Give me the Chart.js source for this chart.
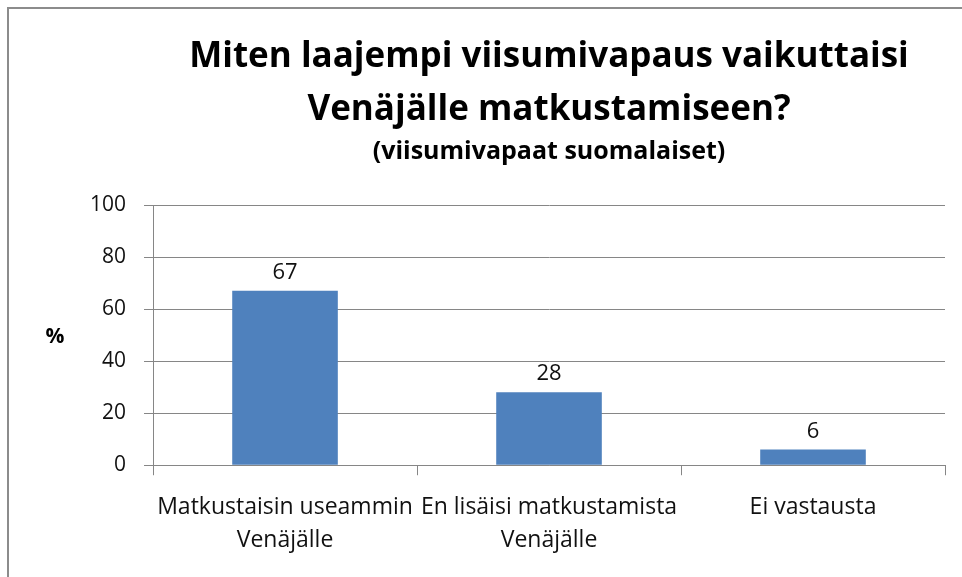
<!DOCTYPE html>
<html>
<head>
<meta charset="utf-8">
<script src="https://cdn.jsdelivr.net/npm/chart.js@4"></script>
<style>
    body { margin: 0; background: #fff; }
    #wrap { position: relative; width: 962px; height: 577px; }
    #frame {
        position: absolute; left: 7px; top: 7px; right: 0; bottom: 0;
        border-top: 2px solid #8c8c8c; border-left: 2px solid #8c8c8c;
        pointer-events: none;
    }
</style>
</head>
<body>
<div id="wrap">
    <canvas id="chart"></canvas>
    <div id="frame"></div>
</div>
<script>
// Chart data
const categories = [
    ['Matkustaisin useammin', 'Venäjälle'],
    ['En lisäisi matkustamista', 'Venäjälle'],
    'Ei vastausta'
];
const values = [67, 28, 6];
const titleLines = ['Miten laajempi viisumivapaus vaikuttaisi', 'Venäjälle matkustamiseen?'];
const subtitleText = '(viisumivapaat suomalaiset)';
const yAxisLabel = '%';

const fontFamily = '"Open Sans", Lato, sans-serif';
const gridColor = '#868686';

// Draws the value above each bar
const valueLabels = {
    id: 'valueLabels',
    afterDatasetsDraw(chart) {
        const ctx = chart.ctx;
        ctx.save();
        ctx.font = '22px ' + fontFamily;
        ctx.fillStyle = '#111';
        ctx.textAlign = 'center';
        ctx.textBaseline = 'alphabetic';
        chart.getDatasetMeta(0).data.forEach((bar, i) => {
            ctx.fillText(values[i], bar.x, bar.y - 12);
        });
        ctx.restore();
    }
};

// Horizontal "%" label left of the y axis
const yLabel = {
    id: 'yLabel',
    afterDraw(chart) {
        const ctx = chart.ctx;
        const area = chart.chartArea;
        ctx.save();
        ctx.font = 'bold 21px ' + fontFamily;
        ctx.fillStyle = '#000';
        ctx.textAlign = 'center';
        ctx.textBaseline = 'middle';
        ctx.fillText(yAxisLabel, 55, (area.top + area.bottom) / 2 + 2);
        ctx.restore();
    }
};

new Chart(document.getElementById('chart'), {
    type: 'bar',
    data: {
        labels: categories,
        datasets: [{
            data: values,
            backgroundColor: '#4f81bd',
            barPercentage: 0.4,
            categoryPercentage: 1
        }]
    },
    options: {
        responsive: true,
        maintainAspectRatio: false,
        animation: false,
        layout: { padding: { left: 72, right: 17, top: 31, bottom: 4 } },
        plugins: {
            legend: { display: false },
            tooltip: { enabled: false },
            title: {
                display: true,
                text: titleLines,
                fullSize: false,
                color: '#000',
                font: { family: fontFamily, size: 35, weight: 'bold', lineHeight: 1.5 },
                padding: { top: 0, bottom: 0 }
            },
            subtitle: {
                display: true,
                text: subtitleText,
                fullSize: false,
                color: '#000',
                font: { family: fontFamily, size: 25, weight: 'bold', lineHeight: 1.2 },
                padding: { top: 1, bottom: 38 }
            }
        },
        scales: {
            x: {
                grid: {
                    offset: true,
                    drawOnChartArea: false,
                    color: gridColor,
                    tickLength: 10
                },
                border: { color: gridColor, width: 1 },
                ticks: {
                    color: '#111',
                    padding: 16,
                    maxRotation: 0,
                    autoSkip: false,
                    font: { family: fontFamily, size: 23, lineHeight: 1.43 }
                }
            },
            y: {
                min: 0,
                max: 100,
                ticks: {
                    stepSize: 20,
                    color: '#111',
                    padding: 18,
                    font: { family: fontFamily, size: 21 }
                },
                grid: { color: gridColor, tickLength: 9 },
                border: { color: gridColor, width: 1 }
            }
        }
    },
    plugins: [valueLabels, yLabel]
});
</script>
</body>
</html>
